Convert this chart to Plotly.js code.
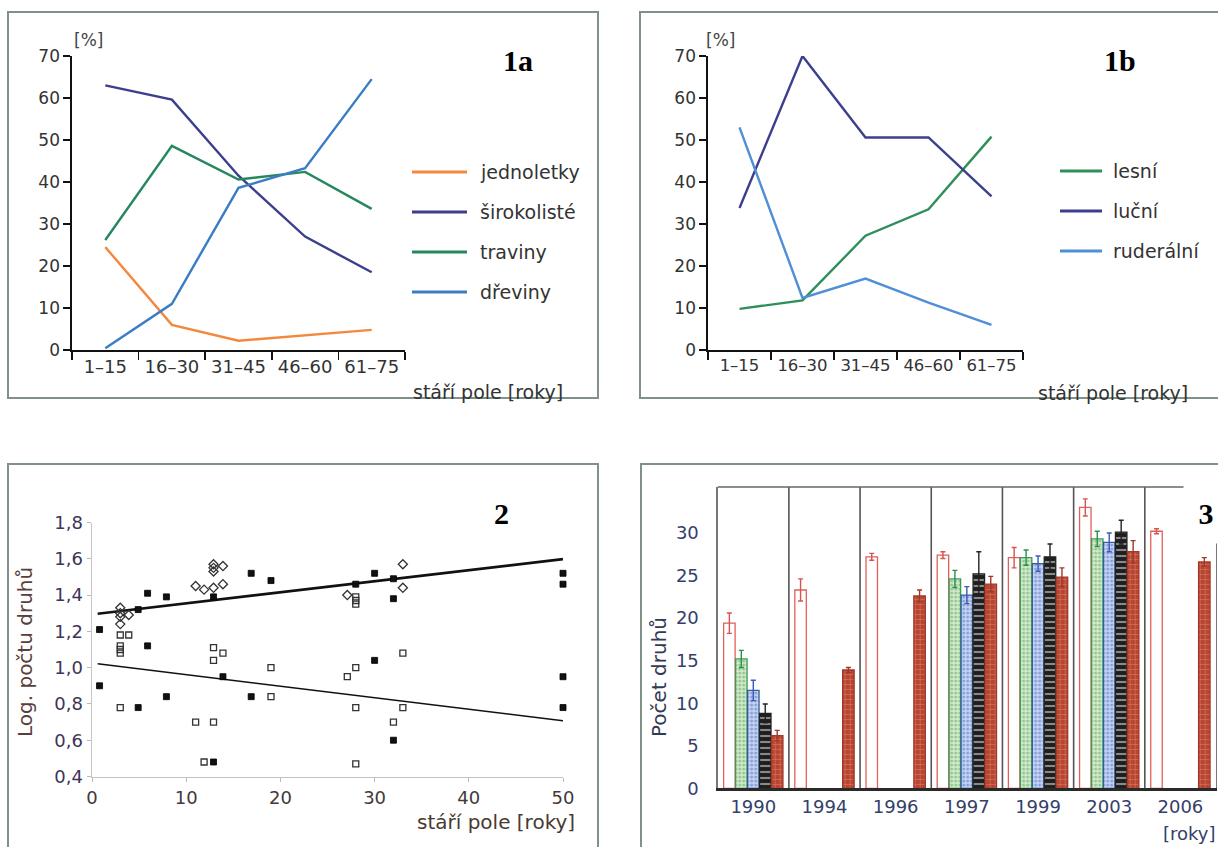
<!DOCTYPE html>
<html><head><meta charset="utf-8">
<script src="https://cdn.plot.ly/plotly-3.0.1.min.js"></script>
<style>html,body{margin:0;padding:0;background:#fff}#chart{width:1218px;height:847px}</style>
</head><body><div id="chart"></div>
<script>
// ---------- DATA ----------
const ageCats = ['1–15','16–30','31–45','46–60','61–75'];
// panel 1a
const names1a = ['jednoletky','širokolisté','traviny','dřeviny'];
const jednoletky  = [24.5, 6.0, 2.2, 3.5, 4.8];
const sirokoliste = [63.0, 59.6, 41.5, 27.0, 18.5];
const traviny     = [26.2, 48.6, 40.6, 42.4, 33.6];
const dreviny     = [0.4, 11.0, 38.6, 43.3, 64.5];
// panel 1b
const names1b = ['lesní','luční','ruderální'];
const lesni     = [9.8, 11.8, 27.2, 33.5, 50.8];
const lucni     = [33.8, 70.0, 50.6, 50.6, 36.6];
const ruderalni = [53.0, 12.4, 17.0, 11.3, 6.0];
// panel 2 (x = stáří pole, y = log. počtu druhů)
const filledX = [0.8,4.9,5.9,7.9,12.9,16.9,19,28,30,32,32,50,50, 0.8,4.9,5.9,7.9,12.9,13.9,16.9,30,32,50,50];
const filledY = [1.21,1.32,1.41,1.39,1.39,1.52,1.48,1.46,1.52,1.49,1.38,1.52,1.46, 0.90,0.78,1.12,0.84,0.48,0.95,0.84,1.04,0.60,0.95,0.78];
const openX = [3,3.9,3,3,3,28,28,28, 3,11,11.9,12.9,12.9,12.9,13.9,19,19,27.1,28,28,28,32,33,33];
const openY = [1.18,1.18,1.12,1.10,1.08,1.39,1.37,1.35, 0.78,0.70,0.48,1.11,1.04,0.70,1.08,1.00,0.84,0.95,1.00,0.78,0.47,0.70,1.08,0.78];
const diamX = [3,3,3,3,3.9,11,11.9,12.9,12.9,12.9,12.9,13.9,13.9,27.1,33,33];
const diamY = [1.33,1.30,1.28,1.24,1.29,1.45,1.43,1.57,1.55,1.53,1.44,1.56,1.46,1.40,1.57,1.44];
const fitX = [0.6, 50];
const fitUpperY = [1.297, 1.598];
const fitLowerY = [1.021, 0.707];
// panel 3
const years = ['1990','1994','1996','1997','1999','2003','2006'];
const bar1 = [19.4, 23.3, 27.2, 27.4, 27.1, 33.0, 30.2];
const err1 = [1.2, 1.3, 0.4, 0.4, 1.2, 1.0, 0.3];
const bar2 = [15.2, null, null, 24.6, 27.1, 29.3, null];
const err2 = [1.0, 0, 0, 1.0, 0.9, 0.9, 0];
const bar3 = [11.5, null, null, 22.7, 26.4, 28.9, null];
const err3 = [1.2, 0, 0, 1.0, 0.9, 1.1, 0];
const bar4 = [8.8, null, null, 25.2, 27.2, 30.1, null];
const err4 = [1.1, 0, 0, 2.6, 1.5, 1.4, 0];
const bar5 = [6.2, 13.9, 22.6, 24.0, 24.8, 27.8, 26.6];
const err5 = [0.6, 0.3, 0.7, 0.9, 1.1, 1.3, 0.5];

// ---------- LAYOUT HELPERS ----------
const W = 1218, H = 847;
const PX = p => p / W;
const PY = p => 1 - p / H;
const FONT = 'DejaVu Sans, Liberation Sans, Arial, sans-serif';
const SERIF = 'Liberation Serif, Times New Roman, serif';

const col1a = ['#f4883c', '#3b3f8c', '#24885c', '#3a7dc4'];
const col1b = ['#2f8f5a', '#3b3f8c', '#4f8fd6'];

const traces = [];
const ser1a = [jednoletky, sirokoliste, traviny, dreviny];
ser1a.forEach((s, i) => traces.push({
  type: 'scatter', mode: 'lines', x: ageCats, y: s, name: names1a[i],
  xaxis: 'x', yaxis: 'y', line: {color: col1a[i], width: 2.4}, showlegend: false
}));
const ser1b = [lesni, lucni, ruderalni];
ser1b.forEach((s, i) => traces.push({
  type: 'scatter', mode: 'lines', x: ageCats, y: s, name: names1b[i],
  xaxis: 'x2', yaxis: 'y2', line: {color: col1b[i], width: 2.4}, showlegend: false
}));

// panel 2
traces.push({type:'scatter', mode:'lines', x: fitX, y: fitUpperY, xaxis:'x3', yaxis:'y3',
  line:{color:'#111', width:2.6}, showlegend:false, cliponaxis:false});
traces.push({type:'scatter', mode:'lines', x: fitX, y: fitLowerY, xaxis:'x3', yaxis:'y3',
  line:{color:'#111', width:1.5}, showlegend:false, cliponaxis:false});
traces.push({type:'scatter', mode:'markers', x: openX, y: openY, xaxis:'x3', yaxis:'y3',
  marker:{symbol:'square-open', size:6, color:'#333', line:{width:1.3, color:'#333'}}, showlegend:false, cliponaxis:false});
traces.push({type:'scatter', mode:'markers', x: diamX, y: diamY, xaxis:'x3', yaxis:'y3',
  marker:{symbol:'diamond-open', size:7, color:'#333', line:{width:1.3, color:'#333'}}, showlegend:false, cliponaxis:false});
traces.push({type:'scatter', mode:'markers', x: filledX, y: filledY, xaxis:'x3', yaxis:'y3',
  marker:{symbol:'square', size:6, color:'#111', line:{width:0.8, color:'#000'}}, showlegend:false, cliponaxis:false});

// panel 3
const barSpecs = [
  {y: bar1, e: err1, color:'#ffffff', line:'#e0605a', ecol:'#d9534f', pattern:null},
  {y: bar2, e: err2, color:'#cfe7c9', line:'#3b9a5a', ecol:'#2f8f4a', pattern:{shape:'.', bgcolor:'#d4ebce', fgcolor:'#4fa34f', size:4, solidity:0.45}},
  {y: bar3, e: err3, color:'#c4d2f0', line:'#2f5f9a', ecol:'#3a5ab8', pattern:{shape:'.', bgcolor:'#c8d5f2', fgcolor:'#4a68c2', size:4, solidity:0.45}},
  {y: bar4, e: err4, color:'#222222', line:'#222', ecol:'#222', pattern:{shape:'-', bgcolor:'#1e1e1e', fgcolor:'#f4f4f4', size:6, solidity:0.35}},
  {y: bar5, e: err5, color:'#b5432f', line:'#a0382a', ecol:'#a0382a', pattern:{shape:'+', bgcolor:'#b9452f', fgcolor:'#eeb4a4', size:5, solidity:0.22}}
];
barSpecs.forEach((b, i) => {
  const m = {color: b.color, line: {color: b.line, width: 1.3}};
  if (b.pattern) m.pattern = Object.assign({fillmode:'overlay'}, b.pattern);
  traces.push({type:'bar', x: years, y: b.y, xaxis:'x4', yaxis:'y4', name:'s' + (i+1),
    marker: m, showlegend:false,
    error_y:{type:'data', array:b.e, visible:true, color:b.ecol, thickness:1.4, width:2.5}});
});

// ---------- AXES ----------
const tick1 = {family: FONT, size: 17, color: '#333'};
function catAxis(dom, anchor, fs) {
  return {domain: dom, anchor: anchor, type:'category', range:[-0.5, 4.5], tickson:'boundaries', tickangle:0,
    ticks:'outside', ticklen:8, tickwidth:1.5, tickcolor:'#111', showline:true, linecolor:'#111', linewidth:1.6,
    showgrid:false, zeroline:false, tickfont: {family: FONT, size: fs, color: '#333'}, fixedrange:true};
}
function pctAxis(dom, anchor) {
  return {domain: dom, anchor: anchor, range:[0, 70], tickvals:[0,10,20,30,40,50,60,70],
    ticks:'outside', ticklen:7, tickwidth:1.5, tickcolor:'#111', showline:true, linecolor:'#111', linewidth:1.6,
    showgrid:false, zeroline:false, tickfont: tick1, fixedrange:true};
}
const yDom1 = [PY(350), PY(56)];

const layout = {
  width: W, height: H, margin:{l:0, r:0, t:0, b:0}, paper_bgcolor:'#fff', plot_bgcolor:'rgba(0,0,0,0)',
  separators: ',.', showlegend:false, bargap:0.16, bargroupgap:0.04, barmode:'group',
  xaxis: catAxis([PX(72), PX(405)], 'y', 18),
  yaxis: pctAxis(yDom1, 'x'),
  xaxis2: catAxis([PX(708), PX(1023)], 'y2', 16.5),
  yaxis2: pctAxis(yDom1, 'x2'),
  xaxis3: {domain:[PX(92), PX(563)], anchor:'y3', range:[0, 50], tickvals:[0,10,20,30,40,50],
    ticks:'outside', ticklen:4, tickcolor:'#bbb', showline:true, linecolor:'#c4c4c4', linewidth:1.5,
    showgrid:false, zeroline:false, tickfont:{family:FONT, size:18, color:'#43393a'}},
  yaxis3: {domain:[PY(776.5), PY(522.5)], anchor:'x3', range:[0.4, 1.8], tickvals:[0.4,0.6,0.8,1.0,1.2,1.4,1.6,1.8],
    tickformat:'.1f', ticks:'outside', ticklen:4, tickcolor:'#bbb', showline:true, linecolor:'#c4c4c4', linewidth:1.5,
    showgrid:false, zeroline:false, tickfont:{family:FONT, size:18, color:'#3d3558'}},
  xaxis4: {domain:[PX(717.7), PX(1216)], anchor:'y4', type:'category', ticks:'', tickangle:0, showline:true,
    linecolor:'#2a2a2a', linewidth:2.6, showgrid:false, zeroline:false,
    tickfont:{family:FONT, size:18, color:'#34406a'}},
  yaxis4: {domain:[PY(788.3), PY(487)], anchor:'x4', range:[0, 35.4], tickvals:[0,5,10,15,20,25,30],
    ticks:'outside', ticklen:14, tickcolor:'rgba(0,0,0,0)', showline:true, mirror:true, linecolor:'#777', linewidth:1.3,
    showgrid:false, zeroline:false, tickfont:{family:FONT, size:18, color:'#34406a'}},
  shapes: [], annotations: []
};

// panel frames
const frameLine = {color:'#7f9188', width:2};
[[8,12,598,398],[640,12,1230,398],[8,464,598,860],[641,464,1230,860]].forEach(r => {
  layout.shapes.push({type:'rect', xref:'paper', yref:'paper', x0:PX(r[0]), y0:PY(r[1]), x1:PX(r[2]), y1:PY(r[3]),
    line: frameLine, layer:'below'});
});
// panel 3 year dividers + top frame
years.slice(1).forEach((y, i) => {
  layout.shapes.push({type:'line', xref:'x4', yref:'y4 domain', x0:i+0.5, x1:i+0.5, y0:0, y1:1,
    line:{color:'#555', width:1.6}});
});
layout.shapes.push({type:'line', xref:'x4 domain', yref:'y4 domain', x0:0, x1:1, y0:1, y1:1, line:{color:'#666', width:1.3}});

// manual legends
function legend(names, cols, x0, x1, tx, ys) {
  names.forEach((n, i) => {
    layout.shapes.push({type:'line', xref:'paper', yref:'paper', x0:PX(x0), x1:PX(x1), y0:PY(ys[i]), y1:PY(ys[i]),
      line:{color:cols[i], width:3}});
    layout.annotations.push({xref:'paper', yref:'paper', x:PX(tx), y:PY(ys[i]), xanchor:'left', yanchor:'middle',
      text:n, showarrow:false, font:{family:FONT, size:19, color:'#333'}});
  });
}
legend(names1a, col1a, 412, 467, 478, [172, 212, 252, 292]);
legend(names1b, col1b, 1060, 1102, 1111, [171, 211, 251]);

function txt(x, y, t, opt) {
  layout.annotations.push(Object.assign({xref:'paper', yref:'paper', x:PX(x), y:PY(y), text:t, showarrow:false,
    xanchor:'center', yanchor:'middle', font:{family:FONT, size:19, color:'#333'}}, opt || {}));
}
txt(88, 40, '[%]', {font:{family:FONT, size:17, color:'#444'}});
txt(720, 40, '[%]', {font:{family:FONT, size:17, color:'#444'}});
txt(518, 60, '<b>1a</b>', {font:{family:SERIF, size:30, color:'#000'}});
txt(1120, 60, '<b>1b</b>', {font:{family:SERIF, size:30, color:'#000'}});
txt(565, 392, 'stáří pole [roky]', {xanchor:'right'});
txt(1190, 393, 'stáří pole [roky]', {xanchor:'right'});
txt(501, 513, '<b>2</b>', {font:{family:SERIF, size:30, color:'#000'}});
txt(577, 822, 'stáří pole [roky]', {xanchor:'right', font:{family:FONT, size:20, color:'#4a3a30'}});
txt(25, 652, 'Log. počtu druhů', {textangle:-90, font:{family:FONT, size:20, color:'#5a3f3a'}});
txt(659, 677, 'Počet druhů', {textangle:-90, font:{family:FONT, size:20, color:'#333a55'}});
txt(1218, 833, '[roky]', {xanchor:'right', font:{family:FONT, size:18, color:'#34406a'}});
layout.annotations.push({xref:'paper', yref:'paper', x:PX(1183), y:PY(482), xanchor:'left', yanchor:'top',
  width:44, height:60, align:'center', valign:'middle', bgcolor:'#fff', borderpad:0,
  text:'<b>3</b>', showarrow:false, font:{family:SERIF, size:30, color:'#000'}});

Plotly.newPlot('chart', traces, layout, {displayModeBar:false, staticPlot:true});
</script></body></html>
